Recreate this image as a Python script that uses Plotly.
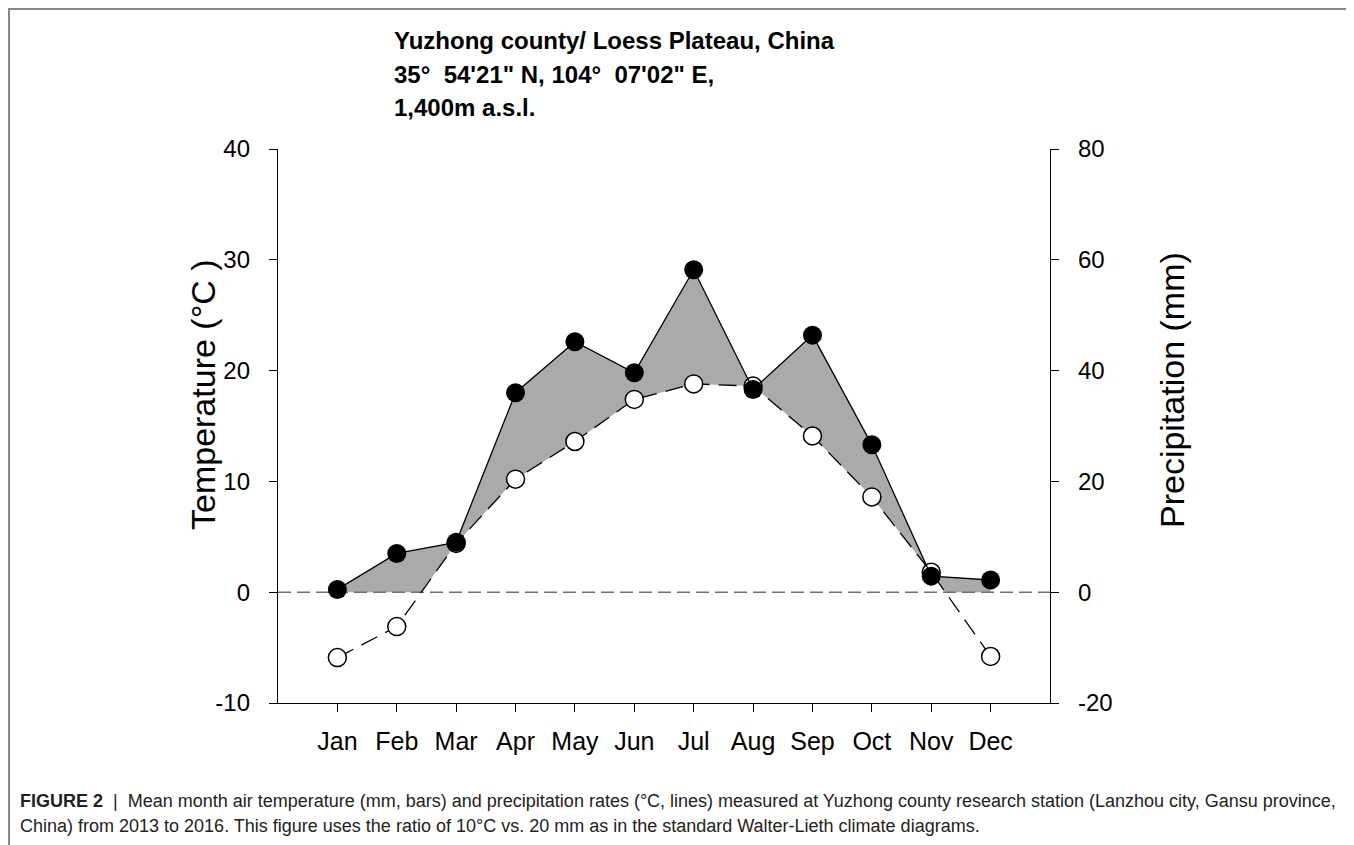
import numpy as np
import plotly.graph_objects as go

months = ["Jan", "Feb", "Mar", "Apr", "May", "Jun", "Jul", "Aug", "Sep", "Oct", "Nov", "Dec"]
# Mean monthly air temperature (°C) - open circles, left axis
temperature = [-5.9, -3.1, 4.4, 10.2, 13.6, 17.4, 18.8, 18.6, 14.1, 8.6, 1.8, -5.8]
# Mean monthly precipitation (mm) - filled circles, right axis
precipitation = [0.5, 7.0, 9.0, 36.0, 45.2, 39.6, 58.2, 36.6, 46.4, 26.6, 2.9, 2.2]

left_ticks = [-10, 0, 10, 20, 30, 40]
right_ticks = [-20, 0, 20, 40, 60, 80]

FONT = "Liberation Sans, Arial, sans-serif"

x = np.arange(len(months), dtype=float)
T = np.array(temperature)
P = np.array(precipitation) / 2.0  # Walter-Lieth ratio 10°C : 20 mm

# breakpoints for the humid-period shading (exact crossings of piecewise-linear lines)
zero = np.zeros_like(T)
bps = list(x)
for i in range(len(x) - 1):
    for a, b in [(T, zero), (P, T), (P, zero)]:
        d0 = a[i] - b[i]
        d1 = a[i + 1] - b[i + 1]
        if d0 * d1 < 0:
            bps.append(x[i] + d0 / (d0 - d1))
bps = np.array(sorted(bps))
Ti = np.interp(bps, x, T)
Pi = np.interp(bps, x, P)
lower = np.maximum(Ti, 0)
upper = np.maximum(Pi, lower)

fig = go.Figure()
fig.add_trace(go.Scatter(x=bps, y=lower, mode="lines", line=dict(width=0, color="rgba(0,0,0,0)"),
                         hoverinfo="skip", showlegend=False))
fig.add_trace(go.Scatter(x=bps, y=upper, mode="lines", line=dict(width=0, color="rgba(0,0,0,0)"),
                         fill="tonexty", fillcolor="#aaaaaa", hoverinfo="skip", showlegend=False))
# zero reference line
fig.add_trace(go.Scatter(x=[-1, 12], y=[0, 0], mode="lines",
                         line=dict(color="#707070", width=1.6, dash="13px,6px"),
                         hoverinfo="skip", showlegend=False))
# temperature
fig.add_trace(go.Scatter(x=x, y=T, mode="lines+markers", name="Temperature",
                         line=dict(color="black", width=1.3, dash="18px,9px"),
                         marker=dict(size=18, color="white", line=dict(color="black", width=1.5)),
                         showlegend=False))
# precipitation
fig.add_trace(go.Scatter(x=x, y=precipitation, mode="lines+markers", name="Precipitation", yaxis="y2",
                         line=dict(color="black", width=1.3),
                         marker=dict(size=19, color="black", line=dict(color="black", width=0)),
                         showlegend=False))

W, H = 1354, 845
OFF = 8  # page offset of the plot div
L, R, TOP, B = 278, 1050, 149, 703  # desired plot-area edges in page pixels


def px(xp):
    return (xp - L) / (R - L)


def py(yp):
    return (B - yp) / (B - TOP)


axis_common = dict(showgrid=False, zeroline=False, showline=True, linecolor="black", linewidth=1.3,
                   ticks="outside", ticklen=8, tickwidth=1.3, tickcolor="black",
                   tickfont=dict(family=FONT, size=24, color="black"))

fig.update_layout(
    width=W, height=H,
    margin=dict(l=L - OFF, r=W + OFF - R, t=TOP - OFF, b=H + OFF - B, autoexpand=False),
    paper_bgcolor="white", plot_bgcolor="white",
    xaxis=dict(range=[-1, 12], tickvals=list(range(12)), ticktext=months, ticklabelstandoff=8, **axis_common),
    yaxis=dict(range=[-10, 40], tickvals=left_ticks, ticktext=[str(v) for v in left_ticks],
               ticklabelstandoff=14, **axis_common),
    yaxis2=dict(range=[-20, 80], tickvals=right_ticks, ticktext=[str(v) for v in right_ticks],
                ticklabelstandoff=14, overlaying="y", side="right", **axis_common),
)
fig.update_xaxes(tickfont=dict(size=25))

CAP = dict(family=FONT, size=18, color="#222222")
TIT = dict(family=FONT, size=24, color="black")
annotations = [
    dict(text="Temperature (°C )", x=px(203), y=py(395), textangle=-90, font=dict(family=FONT, size=34, color="black")),
    dict(text="Precipitation (mm)", x=px(1172), y=py(390), textangle=-90, font=dict(family=FONT, size=34, color="black")),
    dict(text="<b>Yuzhong county/ Loess Plateau, China</b>", x=px(392), y=py(41), xanchor="left", font=TIT),
    dict(text="<b>35°&nbsp; 54'21\" N, 104°&nbsp; 07'02\" E,</b>", x=px(392), y=py(74), xanchor="left", font=TIT),
    dict(text="<b>1,400m a.s.l.</b>", x=px(392), y=py(107), xanchor="left", font=TIT),
    dict(text="<b>FIGURE 2</b>  |  Mean month air temperature (mm, bars) and precipitation rates (°C, lines) measured at Yuzhong county research station (Lanzhou city, Gansu province,",
         x=px(18), y=py(801), xanchor="left", font=CAP),
    dict(text="China) from 2013 to 2016. This figure uses the ratio of 10°C vs. 20 mm as in the standard Walter-Lieth climate diagrams.",
         x=px(18), y=py(826), xanchor="left", font=CAP),
]
for a in annotations:
    a.update(xref="paper", yref="paper", showarrow=False)
    a.setdefault("xanchor", "center")
    a.setdefault("yanchor", "middle")
fig.update_layout(annotations=annotations)

fig.add_shape(type="rect", xref="paper", yref="paper", x0=px(OFF + 1), x1=px(1351), y0=py(900), y1=py(OFF + 1),
              line=dict(color="#888888", width=2), fillcolor="rgba(0,0,0,0)", layer="below")

fig.write_html("out.html")
